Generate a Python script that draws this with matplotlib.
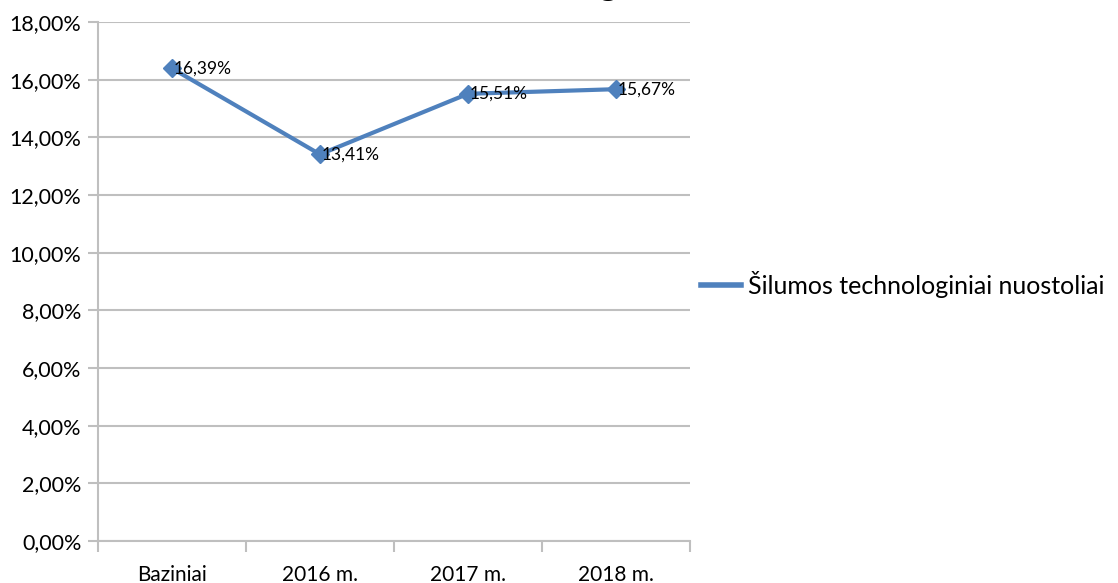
import matplotlib.pyplot as plt
from matplotlib.ticker import FuncFormatter, FixedLocator

categories = ["Baziniai", "2016 m.", "2017 m.", "2018 m."]
values = [16.39, 13.41, 15.51, 15.67]
series_name = "Šilumos technologiniai nuostoliai"

plt.rcParams['font.family'] = ['Lato', 'DejaVu Sans']

fig = plt.figure(figsize=(11.18, 5.83), dpi=100)
ax = fig.add_axes([98 / 1118, 1 - 541 / 583, (690 - 98) / 1118, (541 - 22) / 583])

grid_c = '#bfbfbf'
x = list(range(len(categories)))
line, = ax.plot(x, values, color='#4f81bd', lw=3, marker='D', markersize=9,
                label=series_name, clip_on=False, zorder=3)

for xi, v in zip(x, values):
    ax.annotate(f"{v:.2f}%".replace('.', ','), (xi, v), xytext=(1, 0),
                textcoords='offset points', ha='left', va='center', fontsize=12.5,
                color='black', zorder=4)

ax.set_xlim(-0.5, len(categories) - 0.5)
ax.set_ylim(0, 18)
ax.set_yticks(range(0, 19, 2))
ax.yaxis.set_major_formatter(FuncFormatter(lambda v, p: f"{v:.2f}%".replace('.', ',')))
ax.set_xticks(x)
ax.set_xticklabels(categories)
ax.xaxis.set_minor_locator(FixedLocator([i - 0.5 for i in range(len(categories) + 1)]))
ax.tick_params(axis='x', which='major', length=0, pad=17, labelsize=15)
ax.tick_params(axis='x', which='minor', length=8, width=1.5, color=grid_c)
ax.tick_params(axis='y', length=7, width=1.5, color=grid_c, labelsize=15.5, pad=5)

ax.grid(axis='y', color=grid_c, lw=1.5)
ax.set_axisbelow(True)
for s in ['top', 'right']:
    ax.spines[s].set_visible(False)
for s in ['left', 'bottom']:
    ax.spines[s].set_color(grid_c)
    ax.spines[s].set_linewidth(1.5)

leg = fig.legend(handles=[line], labels=[series_name], loc='center left',
                 bbox_to_anchor=(678 / 1118, 1 - 284 / 583), frameon=False,
                 fontsize=18, handlelength=1.6, handletextpad=0.3)
leg.legend_handles[0].set_marker('')
leg.legend_handles[0].set_linewidth(4)

# cut-off title remnant at the top edge
fig.text(608 / 1118, 1 + 5 / 583, "g", fontsize=26, fontweight='bold',
         ha='center', va='baseline')

fig.savefig('out.png', dpi=100)
